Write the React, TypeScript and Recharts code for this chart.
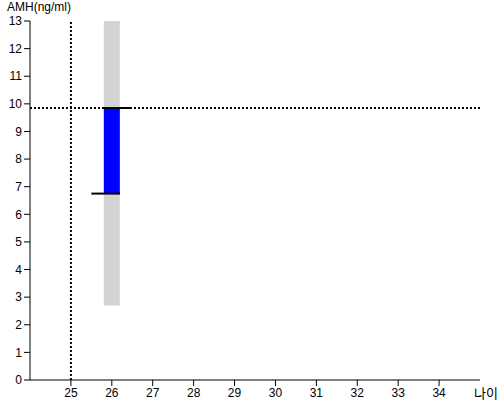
import {
  ComposedChart,
  Bar,
  XAxis,
  YAxis,
  ReferenceLine,
} from "recharts";

const ages = [26];
const normalRange: [number, number][] = [[2.7, 13]];
const amhRange: [number, number][] = [[6.75, 9.85]];
const xTicks = [25, 26, 27, 28, 29, 30, 31, 32, 33, 34];
const yTicks = [0, 1, 2, 3, 4, 5, 6, 7, 8, 9, 10, 11, 12, 13];
const currentAge = 25;
const currentAmh = 9.85;
const lowSegment = [
  { x: 25.5, y: 6.75 },
  { x: 26.2, y: 6.75 },
];
const highSegment = [
  { x: 25.8, y: 9.85 },
  { x: 26.45, y: 9.85 },
];

const data = ages.map((age, i) => ({
  age,
  range: normalRange[i],
  amh: amhRange[i],
}));

const font = "'Liberation Sans', Arial, 'Noto Sans CJK KR', sans-serif";

const App = () => {
  return (
    <div style={{ position: "absolute", left: 0, top: 0 }}>
      <ComposedChart
        width={500}
        height={400}
        data={data}
        margin={{ top: 21, right: 20, left: 0, bottom: 0 }}
        style={{ fontFamily: font }}
      >
        <XAxis
          dataKey="age"
          type="number"
          domain={[24, 35]}
          ticks={xTicks}
          height={20}
          stroke="#000"
          tick={{ fill: "#000", fontSize: 12 }}
          label={{
            value: "나이",
            position: "right",
            offset: -6,
            dy: 3,
            fill: "#000",
            fontSize: 13,
          }}
        />
        {/* second hidden axis so the blue bar sits on top of the grey one */}
        <XAxis
          xAxisId="top"
          dataKey="age"
          type="number"
          domain={[24, 35]}
          ticks={xTicks}
          hide
        />
        <YAxis
          type="number"
          domain={[0, 13]}
          ticks={yTicks}
          interval={0}
          width={30}
          stroke="#000"
          tick={{ fill: "#000", fontSize: 12 }}
          label={{
            value: "AMH(ng/ml)",
            position: "top",
            offset: 10,
            dx: 24,
            fill: "#000",
            fontSize: 12,
          }}
        />
        <Bar dataKey="range" fill="#d3d3d3" barSize={16} isAnimationActive={false} />
        <Bar
          xAxisId="top"
          dataKey="amh"
          fill="#0000ff"
          barSize={16}
          isAnimationActive={false}
        />
        <ReferenceLine
          x={currentAge}
          stroke="#000"
          strokeWidth={2}
          strokeDasharray="2 2"
        />
        <ReferenceLine
          y={currentAmh}
          stroke="#000"
          strokeWidth={2}
          strokeDasharray="2 2"
        />
        <ReferenceLine segment={lowSegment} stroke="#000" strokeWidth={2} />
        <ReferenceLine segment={highSegment} stroke="#000" strokeWidth={2} />
      </ComposedChart>
    </div>
  );
};

export default App;
